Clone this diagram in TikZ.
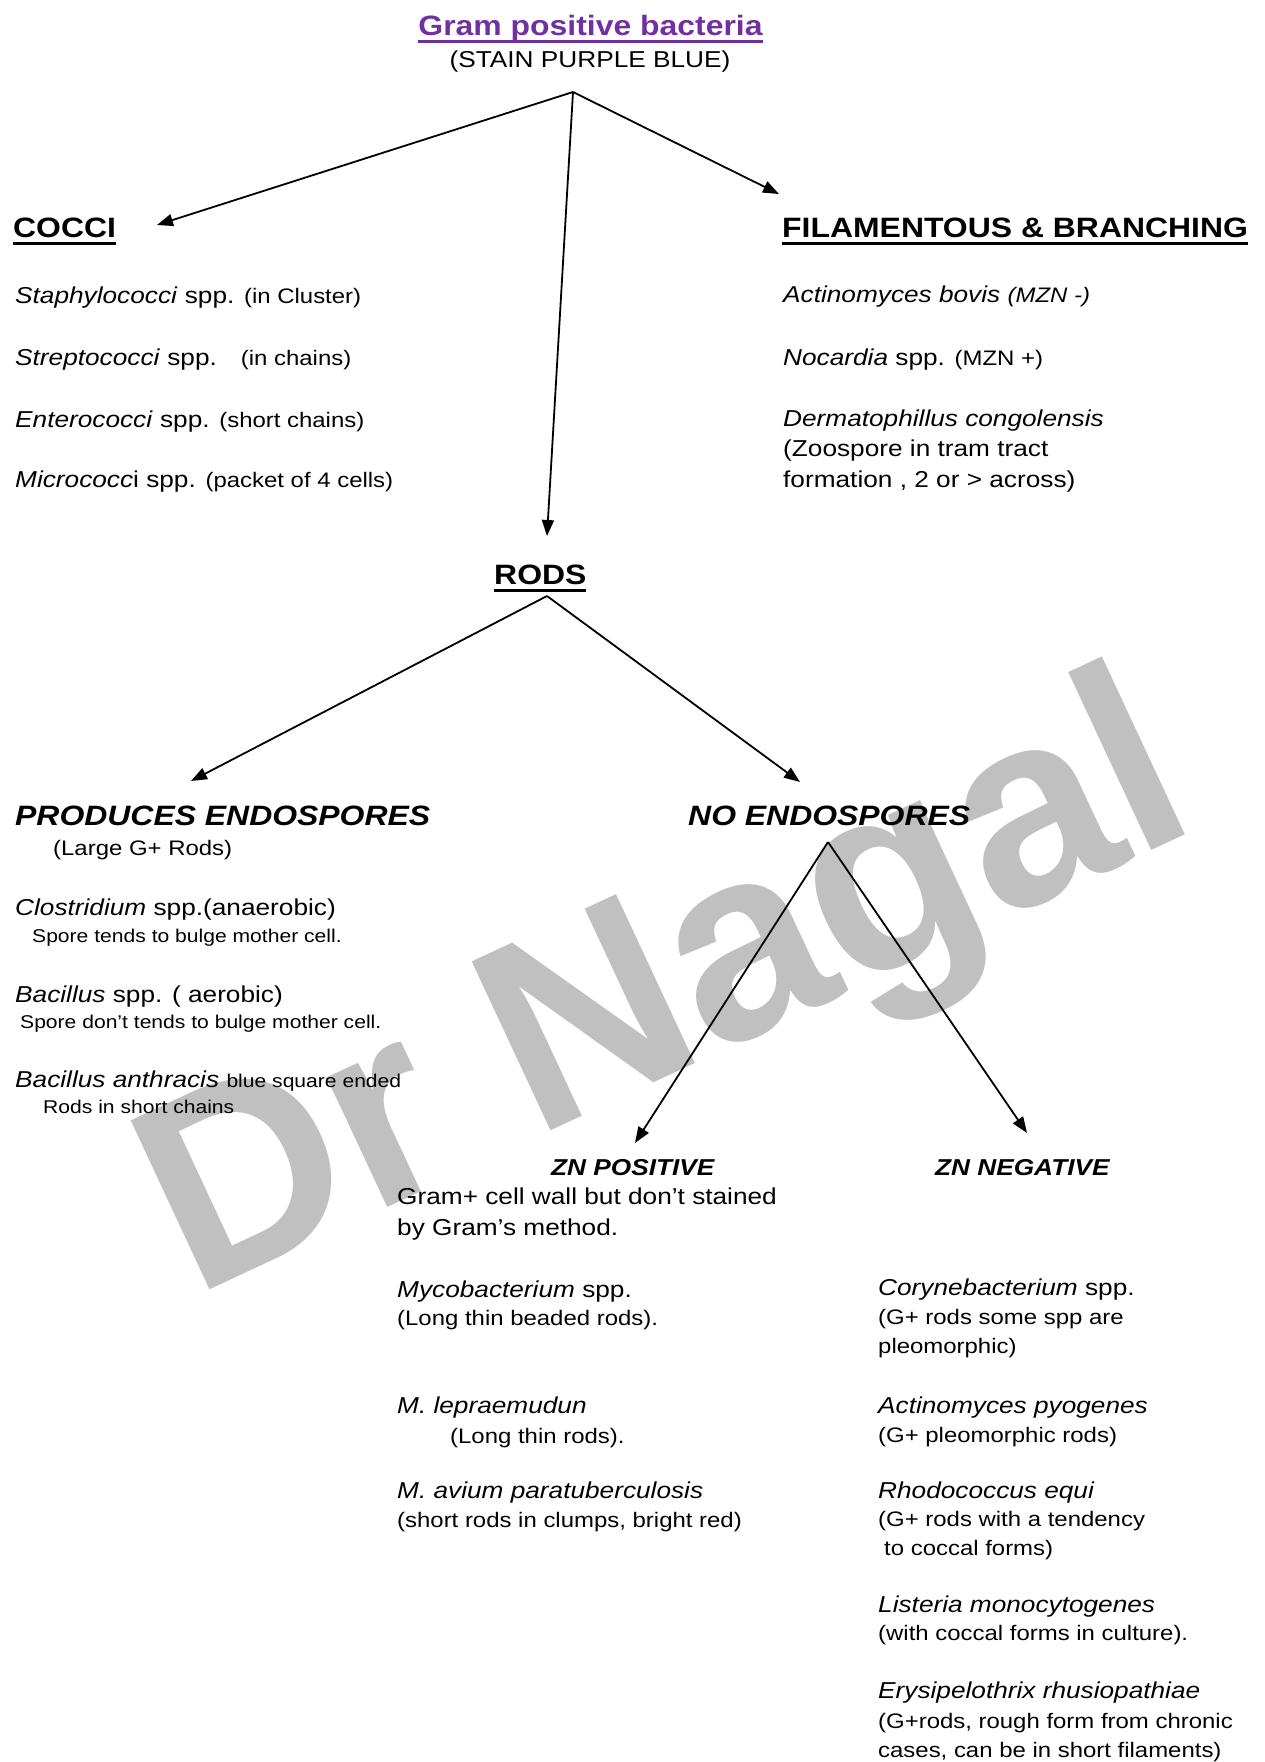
\documentclass[tikz,border=0pt]{standalone}
\usepackage{fontspec}
\setmainfont{Liberation Sans}[FakeStretch=1.14]
\newfontfamily\wmfont{Liberation Sans}
\usetikzlibrary{arrows.meta,positioning}
\definecolor{gppurple}{HTML}{7030A0}
\definecolor{wmgray}{HTML}{C0C0C0}
\newcommand\hdul[1]{\setbox0=\hbox{#1}\rlap{\vrule height -4.5pt depth 7.5pt width \wd0}\box0}
\newcommand\smf{\fontsize{21}{28.5}\selectfont}
\newcommand\tnf{\fontsize{18.5}{24}\selectfont}

\begin{document}
\begin{tikzpicture}[x=1pt,y=-1pt,
title/.style={font=\bfseries\fontsize{28}{32}\selectfont, text=gppurple, inner sep=0pt, anchor=base},
head/.style={font=\bfseries\fontsize{28}{32}\selectfont, inner sep=0pt, anchor=base west},
headit/.style={font=\bfseries\itshape\fontsize{28}{32}\selectfont, inner sep=0pt, anchor=base west},
zn/.style={font=\bfseries\itshape\fontsize{23}{28}\selectfont, inner sep=0pt, anchor=base west},
item/.style={font=\fontsize{23}{30.5}\selectfont, inner sep=0pt, anchor=base west, align=left},
note/.style={font=\fontsize{21}{28.5}\selectfont, inner sep=0pt, anchor=base west, align=left},
tiny/.style={font=\tnf, inner sep=0pt, anchor=base west},
wmark/.style={font=\wmfont\bfseries\fontsize{271}{300}\selectfont, text=wmgray, inner sep=0pt, anchor=base west, rotate=25},
branch/.style={-{Triangle[length=16pt,width=12pt]}, line width=1.8pt},
]
\useasboundingbox (0,0) rectangle (1264,1762);

%Watermark
\node[wmark] (wm) at (193,1298) {Dr Nagal};

%Nodes
\node[title] (gpb) at (590.5,35) {\hdul{Gram positive bacteria}};
\node[item, anchor=base] (stain) at (590,67) {(STAIN PURPLE BLUE)};
\node[head] (cocci) at (13,237) {\hdul{COCCI}};
\node[head] (filam) at (782,237) {\hdul{FILAMENTOUS \& BRANCHING}};
\node[head] (rods) at (494,584) {\hdul{RODS}};
\node[headit] (endo) at (15,825) {PRODUCES ENDOSPORES};
\node[headit] (noendo) at (688,825) {NO ENDOSPORES};
\node[zn] (znpos) at (551,1175) {ZN POSITIVE};
\node[zn] (znneg) at (935,1175) {ZN NEGATIVE};

\node[item] (staph) at (15,303) {\textit{Staphylococci} spp. {\smf(in Cluster)}};
\node[item] (strep) at (15,365) {\textit{Streptococci} spp.\hspace{24pt}{\smf(in chains)}};
\node[item] (entero) at (15,427) {\textit{Enterococci} spp. {\smf(short chains)}};
\node[item] (micro) at (15,487) {\textit{Micrococc}i spp. {\smf(packet of 4 cells)}};

\node[item] (actbov) at (783,302) {\textit{Actinomyces bovis {\smf(MZN -)}}};
\node[item] (nocard) at (783,365) {\textit{Nocardia} spp. {\smf(MZN +)}};
% multi-line nodes sit on their last line
\node[item] (dermat) at (783,487) {\textit{Dermatophillus congolensis}\\(Zoospore in tram tract\\formation , 2 or > across)};

\node[note] (largeg) at (53,855) {(Large G+ Rods)};
\node[item] (clost) at (15,915) {\textit{Clostridium} spp.(anaerobic)};
\node[tiny] (clostd) at ([xshift=17pt,yshift=-27pt]clost.base west) {Spore tends to bulge mother cell.};
\node[item] (bacil) at (15,1002) {\textit{Bacillus} spp. ( aerobic)};
\node[tiny] (bacild) at ([xshift=5pt,yshift=-26pt]bacil.base west) {Spore don’t tends to bulge mother cell.};
\node[item] (anthr) at (15,1087) {\textit{Bacillus anthracis} {\tnf blue square ended}};
\node[tiny] (anthrd) at ([xshift=28pt,yshift=-26pt]anthr.base west) {Rods in short chains};

\node[item] (gramwall) at (397,1235) {Gram+ cell wall but don’t stained\\by Gram’s method.};
\node[item] (myco) at (397,1297) {\textit{Mycobacterium} spp.};
\node[note] (mycod) at ([yshift=-28pt]myco.base west) {(Long thin beaded rods).};
\node[item] (lepra) at (397,1413) {\textit{M. lepraemudun}};
\node[note] (leprad) at ([xshift=53pt,yshift=-30pt]lepra.base west) {(Long thin rods).};
\node[item] (avium) at (397,1498) {\textit{M. avium paratuberculosis}};
\node[note] (aviumd) at ([yshift=-29pt]avium.base west) {(short rods in clumps, bright red)};

\node[item] (coryn) at (878,1295) {\textit{Corynebacterium} spp.};
\node[note] (coryd) at ([yshift=-58pt]coryn.base west) {(G+ rods some spp are\\pleomorphic)};
\node[item] (actpyo) at (878,1413) {\textit{Actinomyces pyogenes}};
\node[note] (actpyod) at ([yshift=-29pt]actpyo.base west) {(G+ pleomorphic rods)};
\node[item] (rhodo) at (878,1498) {\textit{Rhodococcus equi}};
\node[note] (rhodod) at ([yshift=-57pt]rhodo.base west) {(G+ rods with a tendency\\\hspace*{6pt}to coccal forms)};
\node[item] (lister) at (878,1612) {\textit{Listeria monocytogenes}};
\node[note] (listerd) at ([yshift=-28pt]lister.base west) {(with coccal forms in culture).};
\node[item] (erysi) at (878,1698) {\textit{Erysipelothrix rhusiopathiae}};
\node[note] (erysid) at ([yshift=-59pt]erysi.base west) {(G+rods, rough form from chronic\\cases, can be in short filaments)};

%Branch points
\coordinate (gp-fork) at (573,92);
\coordinate (cocci-in) at (157,225);
\coordinate (filam-in) at (779,194);
\coordinate (rods-in) at (547,536);
\coordinate (rods-fork) at (547,596);
\coordinate (endo-in) at (191,781);
\coordinate (noendo-in) at (800,782);
\coordinate (noendo-fork) at (828,842);
\coordinate (znpos-in) at (635,1143);
\coordinate (znneg-in) at (1027,1133);

%Lines
\draw[branch] (gp-fork) -- (cocci-in);
\draw[branch] (gp-fork) -- (filam-in);
\draw[branch] (gp-fork) -- (rods-in);
\draw[branch] (rods-fork) -- (endo-in);
\draw[branch] (rods-fork) -- (noendo-in);
\draw[branch] (noendo-fork) -- (znpos-in);
\draw[branch] (noendo-fork) -- (znneg-in);

\end{tikzpicture}
\end{document}
